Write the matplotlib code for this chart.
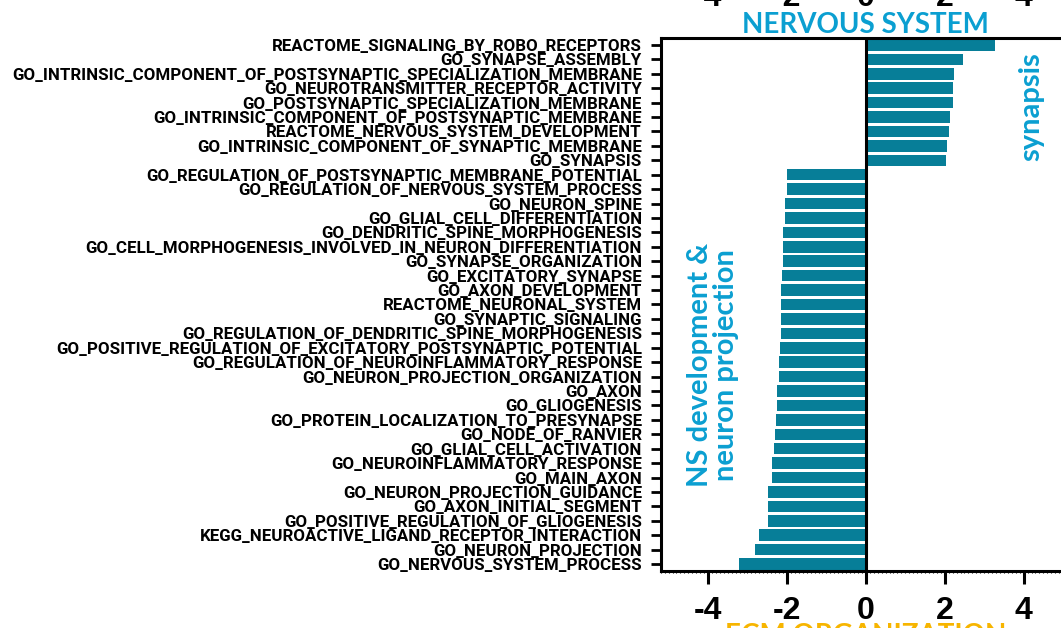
import matplotlib
matplotlib.use("Agg")
import matplotlib.pyplot as plt
from matplotlib.ticker import MultipleLocator
import matplotlib.transforms as mtransforms

# Enriched gene sets, top to bottom, with their normalized enrichment scores
terms = [
    "REACTOME_SIGNALING_BY_ROBO_RECEPTORS",
    "GO_SYNAPSE_ASSEMBLY",
    "GO_INTRINSIC_COMPONENT_OF_POSTSYNAPTIC_SPECIALIZATION_MEMBRANE",
    "GO_NEUROTRANSMITTER_RECEPTOR_ACTIVITY",
    "GO_POSTSYNAPTIC_SPECIALIZATION_MEMBRANE",
    "GO_INTRINSIC_COMPONENT_OF_POSTSYNAPTIC_MEMBRANE",
    "REACTOME_NERVOUS_SYSTEM_DEVELOPMENT",
    "GO_INTRINSIC_COMPONENT_OF_SYNAPTIC_MEMBRANE",
    "GO_SYNAPSIS",
    "GO_REGULATION_OF_POSTSYNAPTIC_MEMBRANE_POTENTIAL",
    "GO_REGULATION_OF_NERVOUS_SYSTEM_PROCESS",
    "GO_NEURON_SPINE",
    "GO_GLIAL_CELL_DIFFERENTIATION",
    "GO_DENDRITIC_SPINE_MORPHOGENESIS",
    "GO_CELL_MORPHOGENESIS_INVOLVED_IN_NEURON_DIFFERENTIATION",
    "GO_SYNAPSE_ORGANIZATION",
    "GO_EXCITATORY_SYNAPSE",
    "GO_AXON_DEVELOPMENT",
    "REACTOME_NEURONAL_SYSTEM",
    "GO_SYNAPTIC_SIGNALING",
    "GO_REGULATION_OF_DENDRITIC_SPINE_MORPHOGENESIS",
    "GO_POSITIVE_REGULATION_OF_EXCITATORY_POSTSYNAPTIC_POTENTIAL",
    "GO_REGULATION_OF_NEUROINFLAMMATORY_RESPONSE",
    "GO_NEURON_PROJECTION_ORGANIZATION",
    "GO_AXON",
    "GO_GLIOGENESIS",
    "GO_PROTEIN_LOCALIZATION_TO_PRESYNAPSE",
    "GO_NODE_OF_RANVIER",
    "GO_GLIAL_CELL_ACTIVATION",
    "GO_NEUROINFLAMMATORY_RESPONSE",
    "GO_MAIN_AXON",
    "GO_NEURON_PROJECTION_GUIDANCE",
    "GO_AXON_INITIAL_SEGMENT",
    "GO_POSITIVE_REGULATION_OF_GLIOGENESIS",
    "KEGG_NEUROACTIVE_LIGAND_RECEPTOR_INTERACTION",
    "GO_NEURON_PROJECTION",
    "GO_NERVOUS_SYSTEM_PROCESS",
]
nes = [
    3.27, 2.46, 2.23, 2.20, 2.20, 2.13, 2.10, 2.05, 2.03,
    -2.01, -2.01, -2.04, -2.06, -2.10, -2.11, -2.11, -2.12, -2.14,
    -2.16, -2.16, -2.16, -2.18, -2.21, -2.21, -2.24, -2.24, -2.27,
    -2.30, -2.33, -2.39, -2.39, -2.47, -2.47, -2.47, -2.72, -2.80,
    -3.22,
]
xticks = [-4, -2, 0, 2, 4]

BAR = "#077e98"
BLUE = "#0b9fd1"
GOLD = "#f7b500"

W, H = 1061, 628
fig = plt.figure(figsize=(W / 100, H / 100), dpi=100)
ax = fig.add_axes([660.7 / W, 1 - 570.7 / H, (1071 - 660.7) / W, (570.7 - 38.3) / H])

ypos = list(range(len(terms)))
ax.barh(ypos, nes, height=0.8, color=BAR, edgecolor="none", zorder=2)
ax.axvline(0, color="black", lw=2.2, zorder=3)

ax.set_xlim(-5.2, 5.2)
ax.set_ylim(len(terms) - 0.54, -0.46)
ax.set_yticks(ypos)
ax.set_yticklabels(terms, fontfamily=["Roboto", "DejaVu Sans"],
                   fontweight="bold", fontsize=12.2)
ax.set_xticks(xticks)
ax.set_xticklabels([str(v) for v in xticks], fontfamily="Liberation Sans",
                   fontweight="bold", fontsize=23)
ax.xaxis.set_minor_locator(MultipleLocator(0.1))

for s in ax.spines.values():
    s.set_linewidth(2.2)
ax.tick_params(axis="y", length=7.5, width=2.0, pad=6)
ax.tick_params(axis="x", which="major", length=9, width=2.2, pad=9)
ax.tick_params(axis="x", which="minor", length=1.5, width=0.8)

# Axis numbers of the panel above, partially visible at the top edge
top = mtransforms.blended_transform_factory(ax.transData, fig.transFigure)
for v in xticks:
    ax.text(v, 1 + 1.5 / H, str(v), transform=top, ha="center", va="center",
            fontfamily="Liberation Sans", fontweight="bold", fontsize=23,
            clip_on=False)

ax.text(0.5, 1 - 25 / H, "NERVOUS SYSTEM", transform=mtransforms.blended_transform_factory(ax.transAxes, fig.transFigure),
        ha="center", va="center", color=BLUE, fontfamily="Lato", fontweight="bold",
        fontsize=20, clip_on=False)
ax.text(0.5, 1 - 636 / H, "ECM ORGANIZATION", transform=mtransforms.blended_transform_factory(ax.transAxes, fig.transFigure),
        ha="center", va="center", color=GOLD, fontfamily="Lato", fontweight="bold",
        fontsize=20, clip_on=False)

ax.text(4.2, 4.3, "synapsis", rotation=90, ha="center", va="center", color=BLUE,
        fontfamily="Lato", fontweight="bold", fontsize=21)
ax.text(-3.87, 22.2, "NS development &\nneuron projection", rotation=90, ha="center",
        va="center", color=BLUE, fontfamily="Lato", fontweight="bold", fontsize=21,
        linespacing=1.0)

fig.savefig("out.png", dpi=100)
